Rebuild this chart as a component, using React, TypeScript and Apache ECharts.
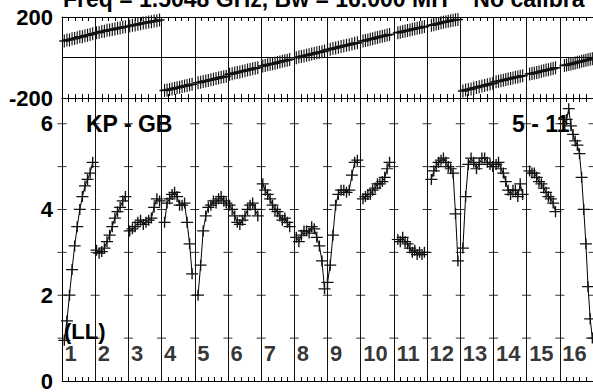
import React, { useEffect, useRef } from "react";
import * as echarts from "echarts";

const titleText = "Freq = 1.5048 GHz, Bw = 16.000 MH    No calibra";
const baselineLabel = "KP - GB";
const dateLabel = "5 - 11";
const polLabel = "(LL)";
const scanLabels = ["1", "2", "3", "4", "5", "6", "7", "8", "9", "10", "11", "12", "13", "14", "15", "16"];

// start / end time of each scan (in scan-axis units)
const scanStart = [0.07, 1.04, 2.04, 3.09, 4.1, 5.05, 6.05, 7.06, 8.0, 9.07, 10.12, 11.13, 12.08, 13.08, 14.09, 15.14];
const scanEnd = [0.925, 1.91, 2.94, 3.92, 4.95, 5.9, 6.86, 7.91, 8.9, 9.87, 10.92, 11.93, 12.98, 13.88, 14.87, 15.98];

// amplitude per scan
const ampScans: number[][] = [
  [0.95, 1.4, 2.0, 2.6, 3.15, 3.6, 4.0, 4.3, 4.55, 4.7, 4.85, 5.1],
  [3.05, 2.98, 3.02, 3.1, 3.25, 3.4, 3.6, 3.8, 3.95, 4.05, 4.2, 4.3],
  [3.5, 3.55, 3.6, 3.7, 3.75, 3.65, 3.7, 3.75, 3.8, 4.05, 4.25, 4.2],
  [3.7, 4.15, 4.25, 4.35, 4.4, 4.3, 4.1, 4.1, 4.15, 3.7, 3.2, 2.5],
  [2.0, 2.7, 3.5, 3.85, 4.05, 4.1, 4.2, 4.15, 4.25, 4.3, 4.2, 4.15],
  [4.1, 4.0, 3.85, 3.7, 3.65, 3.75, 3.85, 4.0, 4.1, 4.15, 4.0, 3.85],
  [4.6, 4.45, 4.35, 4.25, 4.1, 4.0, 3.95, 3.85, 3.75, 3.8, 3.7, 3.6],
  [3.35, 3.25, 3.4, 3.5, 3.5, 3.45, 3.6, 3.55, 3.35, 3.15, 2.8, 2.15],
  [2.3, 2.7, 3.4, 4.1, 4.35, 4.45, 4.45, 4.4, 4.45, 4.8, 5.1, 5.15],
  [4.25, 4.3, 4.35, 4.35, 4.45, 4.5, 4.6, 4.6, 4.65, 4.75, 4.95, 5.1],
  [3.3, 3.25, 3.35, 3.25, 3.2, 3.1, 3.0, 3.05, 2.95, 3.0, 2.95, 3.0],
  [4.7, 4.9, 5.0, 5.1, 5.15, 5.2, 5.1, 5.0, 4.95, 4.85, 3.9, 2.8],
  [3.1, 4.3, 5.05, 5.2, 5.1, 4.95, 5.05, 5.2, 5.2, 5.1, 5.05, 5.0],
  [5.05, 5.1, 4.95, 4.85, 4.65, 4.45, 4.35, 4.45, 4.45, 4.3, 4.6, 4.35],
  [4.9, 4.85, 4.85, 4.75, 4.65, 4.6, 4.5, 4.4, 4.3, 4.25, 4.15, 3.95],
  [6.0, 6.1, 6.35, 5.95, 5.75, 5.6, 5.5, 5.3, 4.75, 4.0, 3.2, 2.2, 1.45, 1.0],
];

// phase (degrees) per scan
const phaseScans: number[][] = [
  [82, 86, 87, 92, 94, 97, 102, 103, 108, 110, 113, 117],
  [122, 124, 128, 130, 134, 136, 138, 141, 145, 146, 150, 152],
  [156, 159, 161, 164, 167, 170, 172, 175, 177, 180, 182, 185],
  [-163, -161, -158, -155, -152, -149, -147, -143, -141, -138, -135, -132],
  [-125, -122, -119, -116, -113, -110, -107, -104, -101, -98, -95, -92],
  [-83, -80, -77, -74, -71, -68, -65, -62, -59, -56, -53, -50],
  [-42, -39, -36, -33, -31, -28, -25, -22, -19, -16, -13, -10],
  [-1, 2, 5, 8, 11, 14, 17, 20, 23, 26, 29, 32],
  [38, 41, 44, 47, 51, 54, 57, 60, 63, 67, 70, 73],
  [81, 84, 87, 90, 93, 96, 99, 102, 105, 108, 111, 114],
  [122, 125, 128, 131, 133, 136, 139, 142, 145, 147, 150, 153],
  [159, 162, 165, 168, 171, 174, 176, 179, 181, 184, 186, 188],
  [-165, -161, -158, -155, -151, -148, -145, -141, -138, -134, -131, -127],
  [-120, -117, -115, -112, -109, -106, -104, -101, -98, -96, -93, -90],
  [-82, -79, -76, -74, -71, -68, -65, -62, -60, -57, -54, -51],
  [-40, -37, -35, -32, -30, -27, -24, -22, -19, -16, -14, -11, -9, -6],
];

const phaseTicks = [-200, 0, 200];
const ampTickLabels = [0, 2, 4, 6];
const ampGridLevels = [1, 2, 3, 4, 5, 6];

const FONT = "'Liberation Sans', Arial, Helvetica, sans-serif";
const PLUS = "path://M0 5L10 5M5 0L5 10";

function scanTimes(i: number, n: number): number[] {
  const out: number[] = [];
  for (let k = 0; k < n; k++) out.push(scanStart[i] + (k * (scanEnd[i] - scanStart[i])) / (n - 1));
  return out;
}

export default function App() {
  const ref = useRef<HTMLDivElement>(null);
  useEffect(() => {
    if (!ref.current) return;
    const chart = echarts.init(ref.current, undefined, { renderer: "svg" });

    const series: any[] = [];
    phaseScans.forEach((vals, i) => {
      const ts = scanTimes(i, vals.length);
      series.push({
        type: "line",
        xAxisIndex: 0,
        yAxisIndex: 0,
        data: vals.map((v, k) => [ts[k], v]),
        symbol: PLUS,
        symbolSize: [10, 13],
        lineStyle: { color: "#000", width: 1.2 },
        itemStyle: { color: "#000", borderColor: "#111", borderWidth: 1.3 },
        z: 3,
      });
    });
    ampScans.forEach((vals, i) => {
      const ts = scanTimes(i, vals.length);
      series.push({
        type: "line",
        xAxisIndex: 2,
        yAxisIndex: 1,
        data: vals.map((v, k) => [ts[k], v]),
        symbol: PLUS,
        symbolSize: [12, 11],
        lineStyle: { color: "#000", width: 1 },
        itemStyle: { color: "#000", borderColor: "#111", borderWidth: 1.3 },
        z: 3,
      });
    });
    const gridMarks: number[][] = [];
    for (let t = 0; t <= 16; t++) ampGridLevels.forEach((v) => gridMarks.push([t, v]));
    series.push({
      type: "scatter",
      xAxisIndex: 2,
      yAxisIndex: 1,
      data: gridMarks,
      symbol: "rect",
      symbolSize: [9, 1],
      itemStyle: { color: "#000" },
      z: 1,
    });
    series.push({
      type: "scatter",
      xAxisIndex: 2,
      yAxisIndex: 1,
      data: scanLabels.map((_, i) => [i, 0.64]),
      symbolSize: 1,
      itemStyle: { color: "transparent" },
      label: {
        show: true,
        position: "right",
        distance: 2,
        formatter: (p: any) => scanLabels[p.dataIndex],
        color: "#000",
        fontSize: 22,
        fontWeight: "bold",
        fontFamily: FONT,
      },
      z: 1,
    });

    const xAx = (grid: number, pos: string, split: boolean) => ({
      type: "value",
      gridIndex: grid,
      position: pos,
      min: 0,
      max: 16,
      interval: 1,
      axisLine: { show: true, onZero: false, lineStyle: { color: "#000", width: 1 } },
      axisTick: { show: true, inside: true, length: 4, lineStyle: { color: "#000" } },
      minorTick: { show: true, splitNumber: 5, length: 4, lineStyle: { color: "#000" } },
      axisLabel: { show: false },
      splitLine: { show: split, lineStyle: { color: "#111", width: 1 } },
    });

    chart.setOption({
      animation: false,
      backgroundColor: "#fff",
      grid: [
        { left: 62, top: 17, right: 0, height: 81 },
        { left: 62, top: 98, right: 0, height: 287.3 },
      ],
      xAxis: [xAx(0, "bottom", true), xAx(0, "top", false), xAx(1, "bottom", true), xAx(1, "top", false)],
      yAxis: [
        {
          type: "value",
          gridIndex: 0,
          min: phaseTicks[0],
          max: phaseTicks[2],
          interval: 200,
          axisLine: { show: true, lineStyle: { color: "#000" } },
          axisTick: { show: false },
          axisLabel: {
            margin: 9,
            color: "#000",
            fontSize: 22,
            fontWeight: "bold",
            fontFamily: FONT,
            formatter: (v: number) => (v === 0 ? "" : String(v)),
          },
          splitLine: { show: true, lineStyle: { color: "#000", width: 1 } },
        },
        {
          type: "value",
          gridIndex: 1,
          min: 0,
          max: 6.6,
          interval: 2,
          axisLine: { show: true, lineStyle: { color: "#000" } },
          axisTick: { show: false },
          axisLabel: {
            margin: 9,
            color: "#000",
            fontSize: 22,
            fontWeight: "bold",
            fontFamily: FONT,
            showMaxLabel: false,
            formatter: (v: number) => (ampTickLabels.indexOf(v) >= 0 ? String(v) : ""),
          },
          splitLine: { show: false },
        },
      ],
      graphic: [
        {
          type: "text",
          x: 63,
          y: -1,
          z: 0,
          style: { text: titleText, fill: "#000", fontSize: 23, fontWeight: "bold", fontFamily: FONT, align: "left", verticalAlign: "middle" },
        },
        {
          type: "text",
          x: 86,
          y: 124,
          z: 0,
          style: { text: baselineLabel, fill: "#000", fontSize: 23, fontWeight: "bold", fontFamily: FONT, align: "left", verticalAlign: "middle" },
        },
        {
          type: "text",
          x: 512,
          y: 124,
          z: 0,
          style: { text: dateLabel, fill: "#000", fontSize: 23, fontWeight: "bold", fontFamily: FONT, align: "left", verticalAlign: "middle" },
        },
        {
          type: "text",
          x: 64,
          y: 331,
          z: 0,
          style: { text: polLabel, fill: "#000", fontSize: 22, fontWeight: "bold", fontFamily: FONT, align: "left", verticalAlign: "middle" },
        },
      ],
      series,
    });
    return () => chart.dispose();
  }, []);
  return <div ref={ref} style={{ position: "fixed", left: 0, top: 0, width: 593, height: 392 }} />;
}
